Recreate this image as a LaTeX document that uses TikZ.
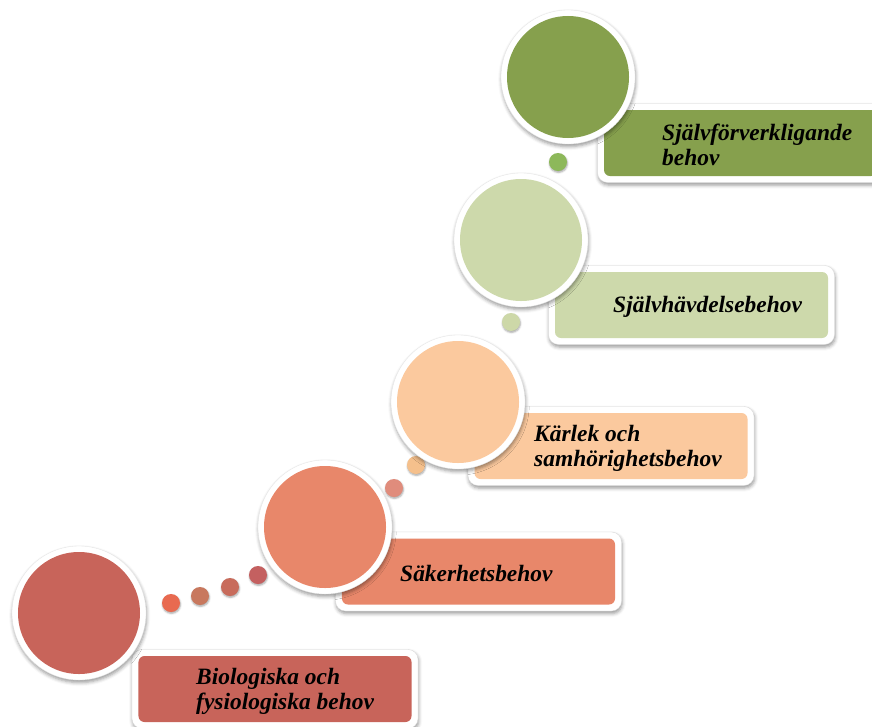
\documentclass[tikz,border=0pt]{standalone}
\usepackage{fontspec}
\setmainfont{Liberation Serif}
\usetikzlibrary{shadows.blur}
\definecolor{cA}{HTML}{C8645A}
\definecolor{cB}{HTML}{E8876A}
\definecolor{cC}{HTML}{FBC99E}
\definecolor{cD}{HTML}{CDD9AB}
\definecolor{cE}{HTML}{86A04D}
\definecolor{dA}{HTML}{E86A50}
\definecolor{dB}{HTML}{C8785E}
\definecolor{dC}{HTML}{C86C5C}
\definecolor{dD}{HTML}{C46060}
\definecolor{dE}{HTML}{E08C7C}
\definecolor{dF}{HTML}{F5C08C}
\definecolor{dG}{HTML}{CDD8A8}
\definecolor{dH}{HTML}{8DB85A}
\begin{document}
\begin{tikzpicture}[x=0.03cm,y=-0.03cm,
  softshadow/.style={blur shadow={shadow xshift=0.6pt, shadow yshift=-2.2pt, shadow blur radius=3pt, shadow opacity=40}},
  ringout/.style={circle, fill=white, draw=black!10, line width=0.3pt, minimum size=4.02cm, inner sep=0, softshadow},
  ringin/.style={circle, minimum size=3.66cm, inner sep=0},
  boxout/.style={rectangle, rounded corners=0.3cm, fill=white, draw=black!15, line width=0.3pt, minimum width=8.58cm, minimum height=2.37cm, inner sep=0, softshadow},
  boxin/.style={rectangle, rounded corners=0.18cm, minimum width=8.19cm, minimum height=1.98cm, inner sep=0},
  txt/.style={anchor=west, align=left, inner sep=0, text=black, font=\bfseries\itshape\fontsize{20}{21.5}\selectfont},
  dotn/.style={circle, minimum size=0.54cm, inner sep=0, blur shadow={shadow xshift=0.4pt, shadow yshift=-1.2pt, shadow blur radius=1.5pt, shadow opacity=35}}
]
\useasboundingbox (0,0) rectangle (872,726);
\clip (0,0) rectangle (872,726);

% boxes
\node[boxout] (b1o) at (275,689) {};
\node[boxin, fill=cA] (b1) at (275,689) {};
\node[boxout] (b2o) at (478.5,571.5) {};
\node[boxin, fill=cB] (b2) at (478.5,571.5) {};
\node[boxout] (b3o) at (611,446) {};
\node[boxin, fill=cC] (b3) at (611,446) {};
\node[boxout] (b4o) at (691.5,305) {};
\node[boxin, fill=cD] (b4) at (691.5,305) {};
\node[boxout] (b5o) at (740.5,143) {};
\node[boxin, fill=cE] (b5) at (740.5,143) {};

% texts
\node[txt] (t1) at (196,691) {Biologiska och\\fysiologiska behov};
\node[txt] (t2) at (400,573) {Säkerhetsbehov};
\node[txt] (t3) at (534,448) {Kärlek och\\samhörighetsbehov};
\node[txt] (t4) at (613,307) {Självhävdelsebehov};
\node[txt] (t5) at (662,145) {Självförverkligande\\behov};

% dots
\node[dotn, fill=dA] (d1) at (171,603) {};
\node[dotn, fill=dB] (d2) at (200,596) {};
\node[dotn, fill=dC] (d3) at (230,587) {};
\node[dotn, fill=dD] (d4) at (258,575) {};
\node[dotn, fill=dE] (d5) at (394,488) {};
\node[dotn, fill=dF] (d6) at (416,465) {};
\node[dotn, fill=dG] (d7) at (511,322) {};
\node[dotn, fill=dH] (d8) at (558,162) {};

% circles
\node[ringout] (c1o) at (79,613) {};
\node[ringin, fill=cA] (c1) at (79,613) {};
\node[ringout] (c2o) at (325,527) {};
\node[ringin, fill=cB] (c2) at (325,527) {};
\node[ringout] (c3o) at (458,402) {};
\node[ringin, fill=cC] (c3) at (458,402) {};
\node[ringout] (c4o) at (521,240) {};
\node[ringin, fill=cD] (c4) at (521,240) {};
\node[ringout] (c5o) at (568,77) {};
\node[ringin, fill=cE] (c5) at (568,77) {};
\end{tikzpicture}
\end{document}
